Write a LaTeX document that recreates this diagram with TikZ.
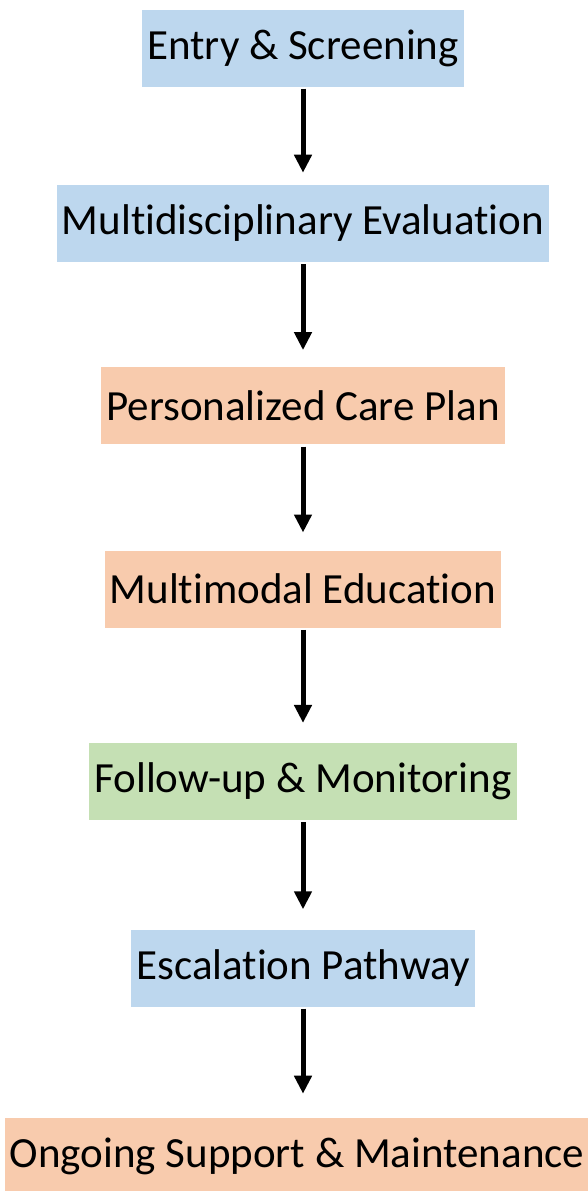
\documentclass[tikz,border=0pt]{standalone}
\usepackage{fontspec}
\setmainfont{Carlito}[Ligatures=NoCommon]
\usetikzlibrary{arrows.meta,positioning}
\definecolor{cblue}{HTML}{BDD7EE}
\definecolor{corange}{HTML}{F8CBAD}
\definecolor{cgreen}{HTML}{C5E0B4}

\begin{document}
\begin{tikzpicture}[
  font=\fontsize{43}{49}\selectfont,
  >={Triangle[length=18pt,width=17pt]},
  stage/.style={minimum height=77pt, inner xsep=5pt, inner ysep=0pt, align=center},
  flow/.style={->, line width=5pt, shorten <=2pt},
]
\useasboundingbox (0,0) rectangle (587pt,-1191pt);
% the pathway, top to bottom
\node[stage, fill=cblue] (entry) at (303pt,-48pt) {Entry \& Screening};
\node[stage, fill=cblue, below=98pt of entry] (eval) {Multidisciplinary Evaluation};
\node[stage, fill=corange, below=105pt of eval] (plan) {Personalized Care Plan};
\node[stage, fill=corange, below=106pt of plan] (educ) {Multimodal Education};
\node[stage, fill=cgreen, below=115pt of educ] (follow) {Follow-up \& Monitoring};
\node[stage, fill=cblue, below=109pt of follow] (escal) {Escalation Pathway};
\node[stage, fill=corange, below=111pt of escal, xshift=-6pt] (support) {Ongoing Support \& Maintenance};
% arrows, all about the same length
\draw[flow, shorten >=12pt] (entry) -- (eval);
\draw[flow, shorten >=17pt] (eval) -- (plan);
\draw[flow, shorten >=18pt] (plan) -- (educ);
\draw[flow, shorten >=20pt] (educ) -- (follow);
\draw[flow, shorten >=20pt] (follow) -- (escal);
\draw[flow, shorten >=24pt] (escal) -- (escal |- support.north);
\end{tikzpicture}
\end{document}
